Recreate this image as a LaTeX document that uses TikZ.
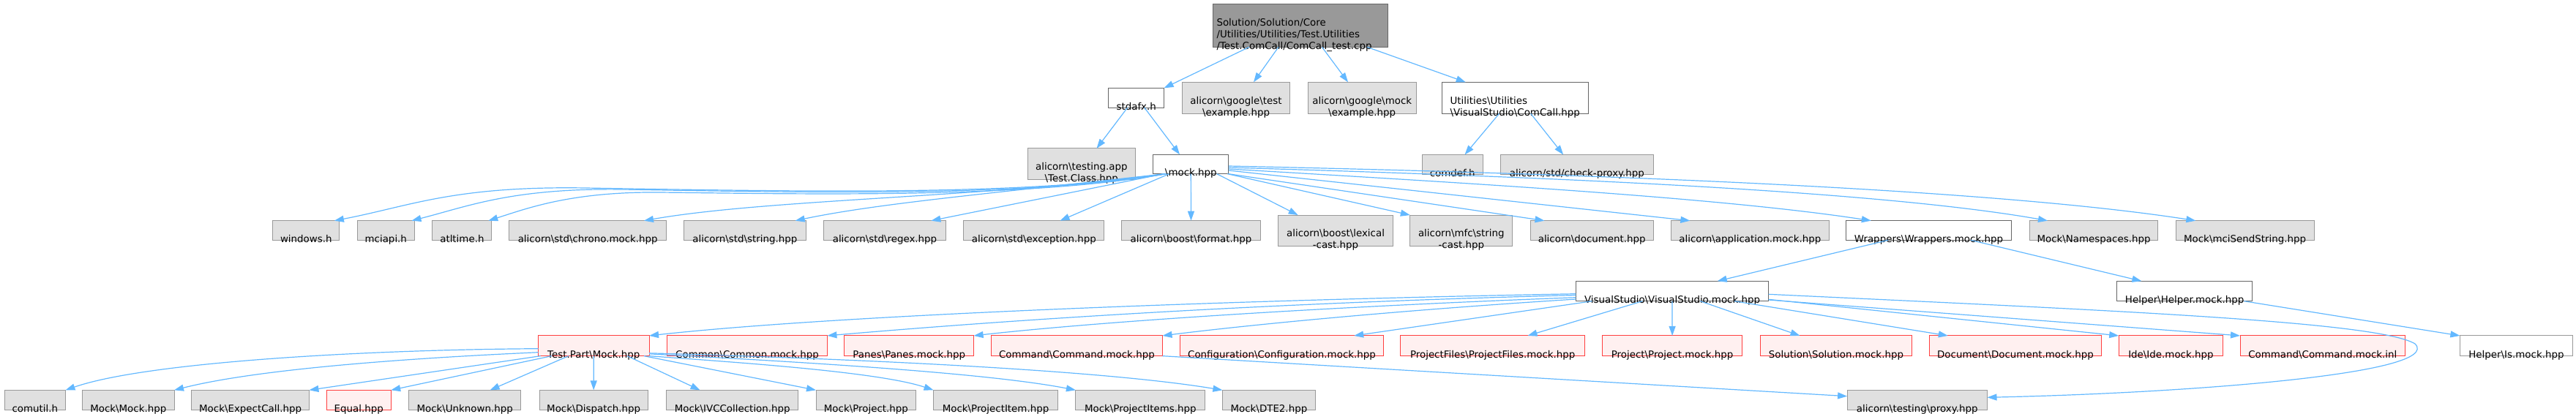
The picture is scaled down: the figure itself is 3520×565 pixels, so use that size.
\documentclass[tikz,border=0pt]{standalone}
\usepackage{fontspec}
\setmainfont{DejaVu Sans}
\usetikzlibrary{arrows.meta}
\definecolor{eblue}{HTML}{63B8FF}
\definecolor{gA}{HTML}{666666}
\definecolor{gB}{HTML}{999999}
\definecolor{gC}{HTML}{E0E0E0}
\definecolor{rB}{HTML}{FF4040}
\definecolor{rF}{HTML}{FFF0F0}
\newcommand\bs{\textbackslash}
\newcommand\lone[1]{\raisebox{-16.4pt}[0pt][0pt]{\makebox[0pt]{#1}}}
\newcommand\ltwo[2]{\raisebox{-24.5pt}[0pt][0pt]{\makebox[0pt]{\begin{tabular}[b]{@{}c@{}}#1\\#2\end{tabular}}}}
\newcommand\ltwol[2]{\raisebox{-24.5pt}[0pt][0pt]{\makebox[0pt]{\begin{tabular}[b]{@{}l@{}}#1\\#2\end{tabular}}}}
\tikzset{
  box/.style={rectangle, inner sep=0pt, outer sep=0pt, line width=1pt, font=\fontsize{13.4pt}{16pt}\selectfont},
  wh/.style 2 args={minimum width=#1pt, minimum height=#2pt},
  wbox/.style={box, draw=gA, fill=white},
  wgbox/.style={box, draw=gB, fill=white},
  gbox/.style={box, draw=gB, fill=gC},
  rbox/.style={box, draw=rB, fill=rF},
  rootbox/.style={box, draw=gA, fill=gB},
  edge/.style={draw=eblue, line width=1.2pt, -{Triangle[length=13pt,width=9pt]}}
}
\begin{document}
\begin{tikzpicture}[x=1pt, y=-1pt]
\useasboundingbox (0,0) rectangle (3520,565);
% row 0
\node[rootbox, wh={239.4}{58.6}] (root) at (1777,35) {\raisebox{-32.3pt}[0pt][0pt]{\makebox[0pt]{\kern-17pt\begin{tabular}[b]{@{}l@{}}Solution/Solution/Core\\/Utilities/Utilities/Test.Utilities\\/Test.ComCall/ComCall\_test.cpp\end{tabular}}}};
% row 1
\node[wbox, wh={75.8}{26.7}] (stdafx) at (1552.7,133.7) {\lone{stdafx.h}};
\node[gbox, wh={147.6}{43}] (gtest) at (1689,133.8) {\ltwo{alicorn\bs google\bs test}{\bs example.hpp}};
\node[gbox, wh={147.6}{43}] (gmock) at (1861.2,133.8) {\ltwo{alicorn\bs google\bs mock}{\bs example.hpp}};
\node[wbox, wh={200.3}{43}] (comcall) at (2070.2,133.8) {\ltwol{Utilities\bs Utilities}{\bs VisualStudio\bs ComCall.hpp}};
% row 2
\node[gbox, wh={146.6}{42.7}] (testclass) at (1477.8,224.3) {\ltwo{alicorn\bs testing.app}{\bs Test.Class.hpp}};
\node[wbox, wh={103.1}{26.4}] (mock) at (1627.3,224.5) {\lone{\bs mock.hpp}};
\node[gbox, wh={82.7}{27}] (comdef) at (1984.7,225) {\lone{comdef.h}};
\node[gbox, wh={209.7}{27}] (checkproxy) at (2154.9,225) {\lone{alicorn/std/check-proxy.hpp}};
% row 3
\node[gbox, wh={91.1}{26.6}] (windows) at (418.3,315) {\lone{windows.h}};
\node[gbox, wh={78}{26.6}] (mciapi) at (527.3,315) {\lone{mciapi.h}};
\node[gbox, wh={81.1}{26.6}] (atltime) at (631.4,315) {\lone{atltime.h}};
\node[gbox, wh={215}{26.6}] (chrono) at (803.2,315) {\lone{alicorn\bs std\bs chrono.mock.hpp}};
\node[gbox, wh={166.9}{26.6}] (string) at (1017.9,315) {\lone{alicorn\bs std\bs string.hpp}};
\node[gbox, wh={166.5}{26.6}] (regex) at (1209,315) {\lone{alicorn\bs std\bs regex.hpp}};
\node[gbox, wh={192.1}{26.6}] (exception) at (1412.9,315) {\lone{alicorn\bs std\bs exception.hpp}};
\node[gbox, wh={189.8}{26.6}] (format) at (1627.5,315) {\lone{alicorn\bs boost\bs format.hpp}};
\node[gbox, wh={156.1}{42.3}] (lexical) at (1825,315.2) {\ltwo{alicorn\bs boost\bs lexical}{-cast.hpp}};
\node[gbox, wh={140}{42.3}] (mfcstring) at (1996.8,315.2) {\ltwo{alicorn\bs mfc\bs string}{-cast.hpp}};
\node[gbox, wh={167.7}{26.6}] (document) at (2175.2,315) {\lone{alicorn\bs document.hpp}};
\node[gbox, wh={215.8}{26.6}] (application) at (2391.3,315) {\lone{alicorn\bs application.mock.hpp}};
\node[wbox, wh={225.7}{26.6}] (wrappers) at (2635.4,315) {\lone{Wrappers\bs Wrappers.mock.hpp}};
\node[gbox, wh={174.2}{26.6}] (namespaces) at (2861,315) {\lone{Mock\bs Namespaces.hpp}};
\node[gbox, wh={189.1}{26.6}] (mcisend) at (3067.6,315) {\lone{Mock\bs mciSendString.hpp}};
% row 4
\node[wbox, wh={263.4}{27.4}] (vsmock) at (2285,398) {\lone{VisualStudio\bs VisualStudio.mock.hpp}};
\node[wbox, wh={184.4}{27.4}] (helper) at (2985.1,398) {\lone{Helper\bs Helper.mock.hpp}};
% row 5
\node[rbox, wh={151.5}{27.7}] (testpart) at (811.3,472.8) {\lone{Test.Part\bs Mock.hpp}};
\node[rbox, wh={218.9}{27.7}] (common) at (1021,472.8) {\lone{Common\bs Common.mock.hpp}};
\node[rbox, wh={176.8}{27.7}] (panes) at (1242.2,472.8) {\lone{Panes\bs Panes.mock.hpp}};
\node[rbox, wh={234.2}{27.7}] (command) at (1471.4,472.8) {\lone{Command\bs Command.mock.hpp}};
\node[rbox, wh={278.6}{27.7}] (configuration) at (1751.5,472.8) {\lone{Configuration\bs Configuration.mock.hpp}};
\node[rbox, wh={251.8}{27.7}] (projectfiles) at (2039.7,472.8) {\lone{ProjectFiles\bs ProjectFiles.mock.hpp}};
\node[rbox, wh={191.6}{27.7}] (project) at (2285.1,472.8) {\lone{Project\bs Project.mock.hpp}};
\node[rbox, wh={207.8}{27.7}] (solution) at (2508.9,472.8) {\lone{Solution\bs Solution.mock.hpp}};
\node[rbox, wh={235.8}{27.7}] (documentm) at (2754,472.8) {\lone{Document\bs Document.mock.hpp}};
\node[rbox, wh={142.4}{27.7}] (ide) at (2966.4,472.8) {\lone{Ide\bs Ide.mock.hpp}};
\node[rbox, wh={225.6}{27.7}] (commandinl) at (3173.8,472.8) {\lone{Command\bs Command.mock.inl}};
\node[wgbox, wh={154.1}{27.7}] (ismock) at (3438.4,472.8) {\lone{Helper\bs Is.mock.hpp}};
% row 6
\node[gbox, wh={83.4}{26.7}] (comutil) at (47.8,546.7) {\lone{comutil.h}};
\node[gbox, wh={125.5}{26.7}] (mockmock) at (175.3,546.7) {\lone{Mock\bs Mock.hpp}};
\node[gbox, wh={160.7}{26.7}] (expectcall) at (342.1,546.7) {\lone{Mock\bs ExpectCall.hpp}};
\node[rbox, wh={88}{26.7}] (equal) at (490.2,546.7) {\lone{Equal.hpp}};
\node[gbox, wh={153}{26.7}] (unknown) at (635.2,546.7) {\lone{Mock\bs Unknown.hpp}};
\node[gbox, wh={148.4}{26.7}] (dispatch) at (811.2,546.7) {\lone{Mock\bs Dispatch.hpp}};
\node[gbox, wh={179.9}{26.7}] (ivc) at (1000.7,546.7) {\lone{Mock\bs IVCCollection.hpp}};
\node[gbox, wh={136.8}{26.7}] (mproject) at (1183.4,546.7) {\lone{Mock\bs Project.hpp}};
\node[gbox, wh={169.9}{26.7}] (projectitem) at (1360.5,546.7) {\lone{Mock\bs ProjectItem.hpp}};
\node[gbox, wh={176.8}{26.7}] (projectitems) at (1558.3,546.7) {\lone{Mock\bs ProjectItems.hpp}};
\node[gbox, wh={127}{26.7}] (dte2) at (1733.9,546.7) {\lone{Mock\bs DTE2.hpp}};
\node[gbox, wh={191.4}{26.7}] (proxy) at (2619.8,546.7) {\lone{alicorn\bs testing\bs proxy.hpp}};
% edges from root
\draw[edge] ([xshift=-70pt]root.south) -- (stdafx.north east);
\draw[edge] ([xshift=-30pt]root.south) -- ([xshift=24pt]gtest.north);
\draw[edge] ([xshift=29.4pt]root.south) -- ([xshift=-19.2pt]gmock.north);
\draw[edge] ([xshift=91pt]root.south) -- ([xshift=-67.5pt]comcall.north);
\draw[edge] ([xshift=-12pt]stdafx.south) -- ([xshift=20.7pt]testclass.north);
\draw[edge] ([xshift=11pt]stdafx.south) -- ([xshift=-15.3pt]mock.north);
\draw[edge] ([xshift=-21.6pt]comcall.south) -- ([xshift=16.8pt]comdef.north);
\draw[edge] ([xshift=21.5pt]comcall.south) -- ([xshift=-18.7pt]checkproxy.north);
% edges from mock
\draw[edge] ([xshift=-33pt]mock.south) .. controls (1400,268) and (1100,262) .. (800,257) .. controls (620,254) and (560,282) .. ([xshift=38.6pt]windows.north);
\draw[edge] ([xshift=-34pt]mock.south) .. controls (1400,270) and (1100,263) .. (850,259) .. controls (700,257) and (640,282) .. ([xshift=35.2pt]mciapi.north);
\draw[edge] ([xshift=-35pt]mock.south) .. controls (1400,272) and (1100,265) .. (900,263) .. controls (780,262) and (720,285) .. ([xshift=35.9pt]atltime.north);
\draw[edge] ([xshift=-35pt]mock.south) .. controls (1350,270) and (1050,272) .. ([xshift=76.8pt]chrono.north);
\draw[edge] ([xshift=-36pt]mock.south) .. controls (1350,265) and (1200,278) .. ([xshift=68.8pt]string.north);
\draw[edge] ([xshift=-37pt]mock.south) -- ([xshift=63.4pt]regex.north);
\draw[edge] ([xshift=-29.6pt]mock.south) -- ([xshift=35.6pt]exception.north);
\draw[edge] (mock.south) -- (format.north);
\draw[edge] ([xshift=35.4pt]mock.south) -- ([xshift=-51.3pt]lexical.north);
\draw[edge] ([xshift=50pt]mock.south) -- (mfcstring.north west);
\draw[edge] (mock.south east) -- ([xshift=-64.7pt]document.north);
\draw[edge] ([yshift=-8.5pt]mock.east) -- ([xshift=-81.9pt]application.north);
\draw[edge] ([yshift=-6.5pt]mock.east) .. controls (2000,250) and (2350,270) .. ([xshift=-78.6pt]wrappers.north);
\draw[edge] ([yshift=-4.5pt]mock.east) .. controls (2050,240) and (2550,258) .. ([xshift=-63pt]namespaces.north);
\draw[edge] ([yshift=-2.5pt]mock.east) .. controls (2100,236) and (2700,255) .. ([xshift=-67.3pt]mcisend.north);
% wrappers, helper
\draw[edge] ([xshift=-55.4pt]wrappers.south) -- ([xshift=61.7pt]vsmock.north);
\draw[edge] ([xshift=57.6pt]wrappers.south) -- ([xshift=-58.7pt]helper.north);
\draw[edge] ([xshift=81.3pt]helper.south) -- (ismock.north west);
% vsmock
\draw[edge] ([yshift=-3.7pt]vsmock.west) .. controls (1700,410) and (1150,430) .. (testpart.north east);
\draw[edge] ([yshift=-5.5pt]vsmock.west) .. controls (1700,415) and (1350,440) .. (common.north east);
\draw[edge] ([yshift=-8.7pt]vsmock.west) .. controls (1800,420) and (1500,440) .. (panes.north east);
\draw[edge] ([yshift=-11pt]vsmock.west) .. controls (1900,425) and (1700,445) .. (command.north east);
\draw[edge] ([xshift=-109.5pt]vsmock.south) -- ([xshift=98.7pt]configuration.north);
\draw[edge] ([xshift=-40.6pt]vsmock.south) -- ([xshift=47.8pt]projectfiles.north);
\draw[edge] (vsmock.south) -- (project.north);
\draw[edge] ([xshift=38.3pt]vsmock.south) -- ([xshift=-49.4pt]solution.north);
\draw[edge] ([xshift=85pt]vsmock.south) -- ([xshift=-92.2pt]documentm.north);
\draw[edge] ([yshift=-11.3pt]vsmock.east) -- (ide.north west);
\draw[edge] ([yshift=-12pt]vsmock.east) -- (commandinl.north west);
\draw[edge] ([yshift=-4.3pt]vsmock.east) .. controls (2900,425) and (3250,440) .. (3300,470) .. controls (3340,510) and (3000,537) .. ([yshift=3.4pt]proxy.east);
\draw[edge] (command.south east) -- ([yshift=5pt]proxy.west);
% testpart
\draw[edge] ([yshift=-3.9pt]testpart.west) .. controls (500,478) and (200,495) .. (comutil.north east);
\draw[edge] ([yshift=-8.9pt]testpart.west) .. controls (550,490) and (350,505) .. (mockmock.north east);
\draw[edge] ([xshift=3pt]testpart.south west) -- (expectcall.north east);
\draw[edge] ([xshift=-57.5pt]testpart.south) -- (equal.north east);
\draw[edge] ([xshift=-34.5pt]testpart.south) -- ([xshift=34.4pt]unknown.north);
\draw[edge] (testpart.south) -- (dispatch.north);
\draw[edge] ([xshift=45.7pt]testpart.south) -- ([xshift=-44.1pt]ivc.north);
\draw[edge] ([xshift=68.7pt]testpart.south) -- (mproject.north west);
\draw[edge] (testpart.south east) .. controls (1000,495) and (1200,508) .. (projectitem.north west);
\draw[edge] ([yshift=-11pt]testpart.east) .. controls (1100,495) and (1350,510) .. (projectitems.north west);
\draw[edge] ([yshift=-10pt]testpart.east) .. controls (1150,490) and (1500,505) .. (dte2.north west);
\end{tikzpicture}
\end{document}
